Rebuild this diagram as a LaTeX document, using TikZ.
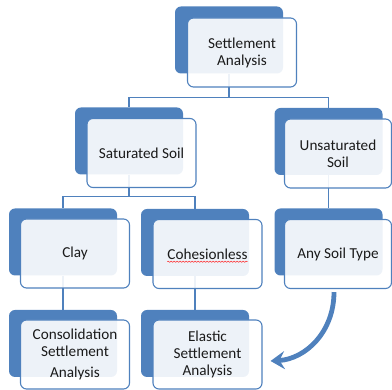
\documentclass[tikz,border=0pt]{standalone}
\usepackage{fontspec}
\setmainfont{Carlito}
\usetikzlibrary{arrows.meta,backgrounds,decorations.pathmorphing}
\definecolor{obl}{HTML}{4F81BD}
\definecolor{txt}{HTML}{1A1A1A}
\begin{document}
\begin{tikzpicture}[x=1pt,y=-1pt,
  backbox/.style={draw=none, fill=obl, rounded corners=6pt, minimum width=108pt, minimum height=67pt, inner sep=0pt},
  frontbox/.style={draw=obl, line width=1.1pt, fill=white, fill opacity=0.9, draw opacity=1, text opacity=1, text=txt,
    rounded corners=6pt, minimum width=109pt, minimum height=69pt, align=center,
    font=\fontsize{15.2}{17}\selectfont, inner sep=0pt},
  plaintext/.style={text=txt, font=\fontsize{15.2}{17}\selectfont, inner sep=0pt},
  link/.style={draw=obl, line width=1.2pt},
  bigarrow/.style={draw=obl, line width=4.8pt, -{Stealth[length=14pt,width=18pt,inset=5pt]}},
  spell/.style={draw=red!85!white, line width=0.5pt, decorate, decoration={snake, amplitude=0.6pt, segment length=3pt}}]
\useasboundingbox (0,0) rectangle (392,390);

\node[backbox] (topb) at (229,40) {};
\node[frontbox] (topf) at (242,52.5) {Settlement\\Analysis};

\node[backbox] (satb) at (129,141) {};
\node[frontbox] (satf) at (141.5,153) {Saturated Soil};

\node[backbox] (unsb) at (328.5,141.5) {};
\node[frontbox, minimum width=107pt] (unsf) at (338,153.5) {Unsaturated\\Soil};

\node[backbox] (clayb) at (63,242) {};
\node[frontbox] (clayf) at (75,253.5) {Clay};

\node[backbox] (cohb) at (195,242.5) {};
\node[frontbox] (cohf) at (207.5,254) {};
\node[plaintext] (cohtxt) at (cohf.center) {Cohesionless};

\node[backbox] (anyb) at (328.5,242) {};
\node[frontbox, minimum width=107pt] (anyf) at (338,254) {Any Soil Type};

\node[backbox] (consb) at (63,343.5) {};
\node[frontbox] (consf) at (75,354.5) {Consolidation\\Settlement\\[4pt]Analysis};

\node[backbox] (elab) at (195,343.5) {};
\node[frontbox] (elaf) at (207.5,354.5) {Elastic\\Settlement\\Analysis};

\begin{scope}[on background layer]
  \draw[link] (topb.south) -- ++(0,24) coordinate (j1) -| (satb.north);
  \draw[link] (j1) -| (unsb.north);
  \draw[link] (satb.south) -- ++(0,22) coordinate (j2) -| (clayb.north);
  \draw[link] (j2) -| (cohb.north);
  \draw[link] (unsb.south) -- (anyb.north);
  \draw[link] (clayb.south) -- (consb.north);
  \draw[link] (cohb.south) -- (elab.north);
\end{scope}

\draw[spell] ([yshift=-2.5pt]cohtxt.base west) -- ([yshift=-2.5pt]cohtxt.base east);

\draw[bigarrow] ([shift={(-4,3)}]anyf.south) .. controls +(0,40) and +(35,-2) .. ([shift={(8,6.5)}]elaf.east);
\end{tikzpicture}
\end{document}
